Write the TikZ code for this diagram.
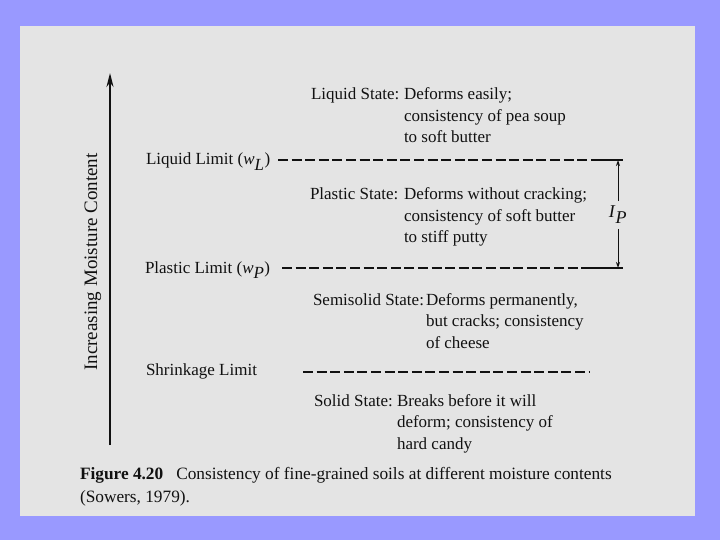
\documentclass[tikz,border=0pt]{standalone}
\usepackage{fontspec}
\setmainfont{Liberation Serif}
\usetikzlibrary{arrows.meta}
\definecolor{slideblue}{HTML}{9999FF}
\definecolor{panelgrey}{HTML}{E4E4E4}
\definecolor{ink}{HTML}{111111}
\begin{document}
\begin{tikzpicture}[x=1pt,y=-1pt,
  every node/.style={inner sep=0pt, outer sep=0pt, text=ink},
  txt/.style={font=\fontsize{17}{21.5}\selectfont, anchor=base west},
  captxt/.style={font=\fontsize{17.3}{23}\selectfont, anchor=base west},
  dashline/.style={draw=ink, line width=1.7pt, dash pattern=on 10pt off 3.6pt},
  solidline/.style={draw=ink, line width=1.7pt},
  dimarrow/.style={draw=ink, line width=1pt, -{Stealth[length=6pt,width=4pt]}},
  axis/.style={draw=ink, line width=1.8pt, -{Stealth[length=14pt,width=7pt]}}]
\useasboundingbox (0,0) rectangle (720,540);
\fill[slideblue] (0,0) rectangle (720,540);
\fill[panelgrey] (20,26) rectangle (695,516);

% axis
\coordinate (axB) at (110,445);
\coordinate (axT) at (110,73);
\draw[axis] (axB) -- (axT);
\node[rotate=90, font=\fontsize{19}{22}\selectfont] (ylab) at (93,262) {Increasing Moisture Content};

% states
\node[txt] (liqL) at (311,100) {Liquid State:};
\node[txt] (liqD) at (404,100) {\begin{tabular}[t]{@{}l@{}}Deforms easily;\\consistency of pea soup\\to soft butter\end{tabular}};

\node[txt] (plaL) at (310,200) {Plastic State:};
\node[txt] (plaD) at (404,200) {\begin{tabular}[t]{@{}l@{}}Deforms without cracking;\\consistency of soft butter\\to stiff putty\end{tabular}};

\node[txt] (semL) at (313,305) {Semisolid State:};
\node[txt] (semD) at (426,305) {\begin{tabular}[t]{@{}l@{}}Deforms permanently,\\but cracks; consistency\\of cheese\end{tabular}};

\node[txt] (solL) at (314,406) {Solid State:};
\node[txt] (solD) at (397,406) {\begin{tabular}[t]{@{}l@{}}Breaks before it will\\deform; consistency of\\hard candy\end{tabular}};

% limits
\node[txt] (llT) at (146,165) {Liquid Limit (\textit{w}$_{\textit{L}}$)};
\node[txt] (plT) at (145,273) {Plastic Limit (\textit{w}$_{\textit{P}}$)};
\node[txt] (slT) at (146,375) {Shrinkage Limit};

\coordinate (llA) at (278,160);
\coordinate (llB) at (591,160);
\coordinate (llC) at (623,160);
\draw[dashline] (llA) -- (llB);
\draw[solidline] (llB) -- (llC);

\coordinate (plA) at (282,268);
\coordinate (plB) at (591,268);
\coordinate (plC) at (623,268);
\draw[dashline] (plA) -- (plB);
\draw[solidline] (plB) -- (plC);

\coordinate (slA) at (303,372);
\coordinate (slB) at (590,372);
\draw[dashline] (slA) -- (slB);

% plasticity index
\node[font=\fontsize{18}{20}\selectfont] (ip) at (618,215) {\textit{I}$_{\textit{P}}$};
\draw[dimarrow, shorten <=5pt] (ip.north) -- (ip.north |- llC);
\draw[dimarrow, shorten <=5pt] (ip.south) -- (ip.south |- plC);

% caption
\node[captxt] (cap1) at (80,479) {\textbf{Figure 4.20}\hspace{13pt}Consistency of fine-grained soils at different moisture contents};
\node[captxt] (cap2) at (80,502) {(Sowers, 1979).};
\end{tikzpicture}
\end{document}
